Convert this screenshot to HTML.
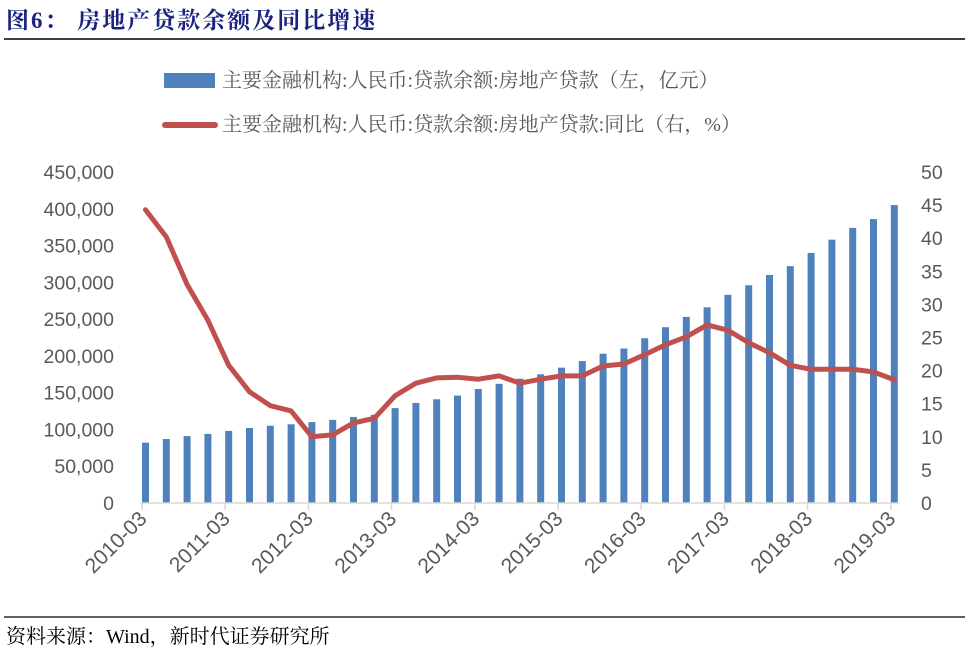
<!DOCTYPE html>
<html><head><meta charset="utf-8"><style>
body{margin:0;background:#fff;}
svg text{font-family:"Liberation Serif","Noto Serif CJK SC",serif;}
</style></head><body>
<svg width="965" height="658" xmlns="http://www.w3.org/2000/svg">
<text x="6" y="28" font-size="23" font-weight="bold" fill="#1a237e" letter-spacing="2">图6：  房地产贷款余额及同比增速</text>
<line x1="4" y1="39" x2="965" y2="39" stroke="#000" stroke-width="1.5"/>
<rect x="164" y="73" width="51" height="15" fill="#4f81bd"/>
<text x="222" y="87" font-size="20" fill="#595959">主要金融机构:人民币:贷款余额:房地产贷款（左，亿元）</text>
<line x1="165" y1="125" x2="215" y2="125" stroke="#c0504d" stroke-width="6" stroke-linecap="round"/>
<text x="222" y="131" font-size="20" fill="#595959">主要金融机构:人民币:贷款余额:房地产贷款:同比（右，%）</text>
<g id="plot"></g>
<line x1="4" y1="617" x2="965" y2="617" stroke="#000" stroke-width="1.2"/>
<text x="6" y="643" font-size="20" fill="#000">资料来源：Wind，新时代证券研究所</text>
</svg>
<script>
const categories=[];for(let y=2010;y<=2019;y++){for(const m of ["03","06","09","12"]){if(y===2019&&m!=="03")break;categories.push(y+"-"+m);}}
const loanBalance=[82000,87000,91000,94000,98000,102000,105000,107000,110000,113000,117000,120000,129000,136000,141000,146000,155000,162000,169000,175000,184000,193000,203000,210000,224000,239000,253000,266000,283000,296000,310000,322000,340000,358000,374000,386000,405000];
const yoyGrowth=[44.3,40.2,33,27.6,20.8,16.8,14.7,13.9,10,10.3,12.1,12.8,16.2,18.1,18.9,19,18.7,19.2,18.1,18.7,19.2,19.2,20.7,21,22.4,23.9,25.1,26.9,26.1,24.2,22.7,20.8,20.2,20.2,20.2,19.8,18.6];
const leftTicks=[0,50000,100000,150000,200000,250000,300000,350000,400000,450000];
const rightTicks=[0,5,10,15,20,25,30,35,40,45,50];
const NS="http://www.w3.org/2000/svg";
const g=document.getElementById('plot');
const y0=503,y1=172,band=20.8,x0=145.5;
const yL=v=>y0-(v/450000)*(y0-y1);
const yR=v=>y0-(v/50)*(y0-y1);
const xC=i=>x0+i*band;
function mk(t,a){const e=document.createElementNS(NS,t);for(const k in a)e.setAttribute(k,a[k]);g.appendChild(e);return e;}
leftTicks.forEach(v=>{const t=mk('text',{x:114,y:yL(v)+7,'font-size':19.5,fill:'#595959','text-anchor':'end'});t.style.fontFamily='"Liberation Sans",sans-serif';t.textContent=v.toLocaleString('en-US');

});
rightTicks.forEach(v=>{const t=mk('text',{x:921,y:yR(v)+7,'font-size':19.5,fill:'#595959'});t.style.fontFamily='"Liberation Sans",sans-serif';t.textContent=v;

});
loanBalance.forEach((v,i)=>{const r=mk('rect',{x:xC(i)-3.5,y:yL(v),width:7,height:y0-yL(v),fill:'#4f81bd'});

});
const ax=mk('line',{x1:xC(0)-5,y1:y0,x2:xC(36)+5,y2:y0,stroke:'#d9d9d9','stroke-width':1.5});


categories.forEach((c,i)=>{if(i%4!==0)return;const x=xC(i)-3.5;
const tk=mk('line',{x1:x,y1:y0,x2:x,y2:y0+7,stroke:'#d9d9d9','stroke-width':1.5});


const t=mk('text',{x:x+6,y:y0+17,'font-size':21,fill:'#595959','text-anchor':'end',transform:`rotate(-45 ${x+6} ${y0+17})`});t.style.fontFamily='"Liberation Sans",sans-serif';t.textContent=c;

});
const p=mk('polyline',{points:yoyGrowth.map((v,i)=>xC(i)+','+yR(v)).join(' '),fill:'none',stroke:'#c0504d','stroke-width':5,'stroke-linejoin':'round','stroke-linecap':'round'});


</script>
</body></html>
